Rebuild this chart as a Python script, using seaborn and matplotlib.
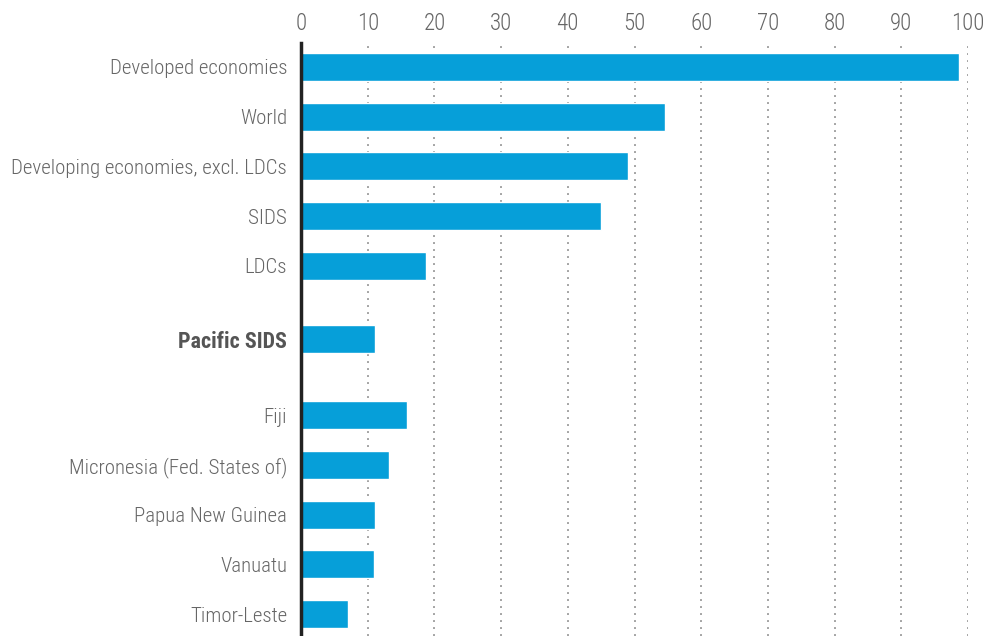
import matplotlib
matplotlib.use("Agg")
import matplotlib.pyplot as plt
from matplotlib import font_manager
import seaborn as sns
import pandas as pd

categories = [
    "Developed economies",
    "World",
    "Developing economies, excl. LDCs",
    "SIDS",
    "LDCs",
    "Pacific SIDS",
    "Fiji",
    "Micronesia (Fed. States of)",
    "Papua New Guinea",
    "Vanuatu",
    "Timor-Leste",
]
values = [98.7, 54.6, 49.0, 45.0, 18.7, 11.1, 15.9, 13.2, 11.1, 10.9, 7.0]
row_positions = [0, 1, 2, 3, 4, 5.47, 7, 8, 9, 10, 11]
x_ticks = [0, 10, 20, 30, 40, 50, 60, 70, 80, 90, 100]

sns.set_style("white")

# condensed sans family for all labels
installed = {f.name for f in font_manager.fontManager.ttflist}
preferred = ["Roboto Condensed", "PT Sans Narrow", "Saira Condensed", "Liberation Sans"]
family = next((f for f in preferred if f in installed), "DejaVu Sans")
plt.rcParams["font.family"] = [family, "DejaVu Sans"]

df = pd.DataFrame({"category": categories, "value": values, "pos": row_positions})

fig = plt.figure(figsize=(9.86, 6.36), dpi=100)
ax = fig.add_axes([301 / 986, 0.0, (968 - 301) / 986, 1 - 43 / 636])

sns.barplot(data=df, x="value", y="pos", orient="h", native_scale=True,
            color="#069fd9", saturation=1, width=0.56, ax=ax, zorder=3)

ax.set_xlim(0, 100)
ax.set_ylim(11.44, -0.48)

# dotted vertical gridlines
for t in x_ticks[1:]:
    ax.axvline(t, color="#a4a4a4", linestyle=(0, (1, 2.6)), linewidth=1.4, zorder=1)

ax.xaxis.tick_top()
ax.set_xticks(x_ticks)
ax.set_xticklabels([str(t) for t in x_ticks])
ax.tick_params(axis="x", length=0, pad=6, labelsize=16.5, labelcolor="#666666")
for lbl in ax.get_xticklabels():
    lbl.set_fontweight(300)

ax.set_yticks(row_positions)
ax.set_yticklabels(categories)
ax.tick_params(axis="y", length=0, pad=10, labelsize=15, labelcolor="#666666")
for lbl in ax.get_yticklabels():
    if lbl.get_text() == "Pacific SIDS":
        lbl.set_fontweight("bold")
        lbl.set_fontsize(15.8)
        lbl.set_color("#555555")
    else:
        lbl.set_fontweight(300)

ax.set_xlabel("")
ax.set_ylabel("")
for side in ["top", "right", "bottom"]:
    ax.spines[side].set_visible(False)
ax.spines["left"].set_color("#222222")
ax.spines["left"].set_linewidth(2.5)
ax.spines["left"].set_zorder(5)

fig.savefig("out.png", dpi=100)
